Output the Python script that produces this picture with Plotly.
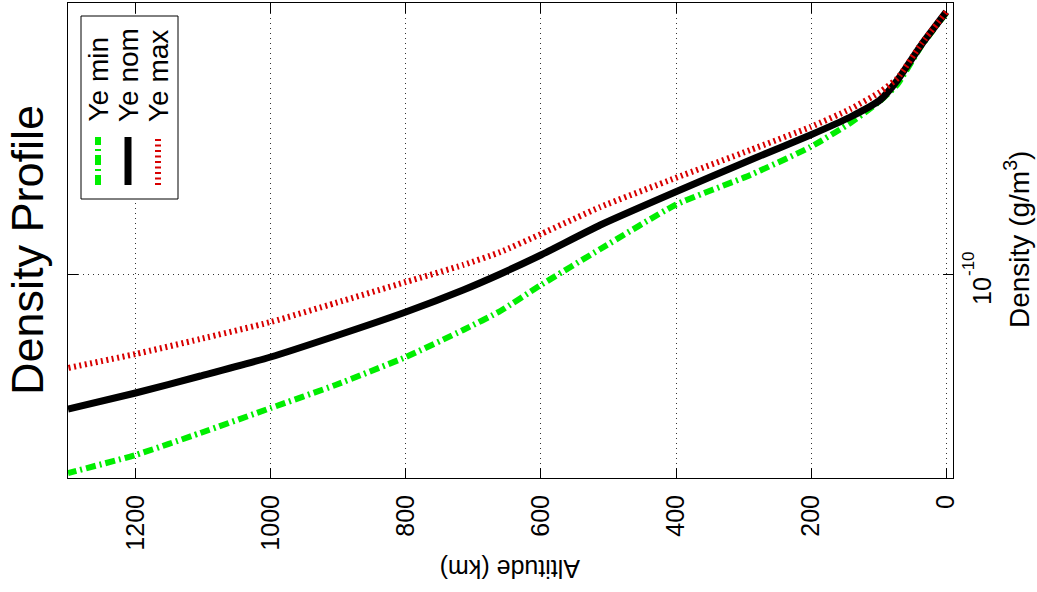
import plotly.graph_objects as go

# ---- data ----
altitude_km = [0, 37, 72, 98, 142, 201, 290, 401, 512, 600, 660, 715, 800, 904, 1000, 1104, 1200, 1300]

density_ye_min = [5.01e-2, 3.98e-3, 2.15e-4, 5.85e-5, 1.08e-5, 1.71e-6, 2.00e-7, 2.00e-8, 6.81e-10,
                  4.30e-11, 5.85e-12, 1.36e-12, 1.71e-13, 2.00e-14, 3.41e-15, 5.01e-16, 9.26e-17,
                  2.33e-17]
density_ye_nom = [5.41e-2, 4.30e-3, 2.93e-4, 6.31e-5, 1.71e-5, 4.30e-6, 6.31e-7, 5.41e-8, 4.30e-9,
                  4.30e-10, 1.00e-10, 2.93e-11, 5.41e-12, 8.58e-13, 1.71e-13, 3.98e-14, 1.08e-14,
                  3.16e-15]
density_ye_max = [5.41e-2, 4.64e-3, 3.41e-4, 1.17e-4, 3.16e-5, 7.94e-6, 1.36e-6, 1.58e-7, 1.71e-8,
                  2.15e-9, 5.41e-10, 2.00e-10, 5.41e-11, 1.08e-11, 2.51e-12, 6.81e-13, 2.15e-13,
                  7.36e-14]

series_names = ["Ye min", "Ye nom", "Ye max"]
x_ticks = [0, 200, 400, 600, 800, 1000, 1200]
y_ticks = [1e-10]
y_tick_base = "10"
y_tick_exp = "-10"

# ---- figure geometry ----
W, H = 1037, 592
L, R, T, B = 68, 953, 3, 478


def px(x):
    return (x - L) / (R - L)


def py(y):
    return (B - y) / (B - T)


FONT = "Liberation Sans, Arial, sans-serif"
styles = [
    dict(color="#00ee00", width=6, dash="10px,4px,2px,4px"),
    dict(color="#000000", width=7, dash="solid"),
    dict(color="#d80000", width=6, dash="2px,3.5px"),
]
data = [density_ye_min, density_ye_nom, density_ye_max]

fig = go.Figure()
for name, vals, st in zip(series_names, data, styles):
    fig.add_trace(go.Scatter(
        x=altitude_km, y=vals, mode="lines", name=name, showlegend=False,
        line=dict(color=st["color"], width=st["width"], dash=st["dash"],
                  shape="spline", smoothing=0.5),
    ))

axis_common = dict(
    showline=True, linecolor="black", linewidth=1, mirror="ticks",
    ticks="inside", ticklen=10, tickcolor="black", tickwidth=1,
    showgrid=True, gridcolor="rgba(0,0,0,0.8)", gridwidth=1, griddash="1px,4px",
    zeroline=False, tickfont=dict(family=FONT, size=25, color="black"),
)

fig.update_layout(
    width=W, height=H,
    margin=dict(l=L, r=W - R, t=T, b=H - B),
    paper_bgcolor="white", plot_bgcolor="white",
    xaxis=dict(range=[1300, -10], tickvals=x_ticks, tickangle=-90,
               ticklabelstandoff=6, **axis_common),
    yaxis=dict(type="log", range=[-16.8, -0.967], tickvals=y_ticks, showticklabels=False,
               side="right", **axis_common),
)

annotations = [
    dict(text="Density Profile", x=px(27), y=py(250), textangle=-90,
         font=dict(family=FONT, size=45, color="black")),
    dict(text="Density (g/m<sup>3</sup>)", x=px(1017), y=py(240), textangle=-90,
         font=dict(family=FONT, size=28, color="black")),
    dict(text=y_tick_base, x=px(982), y=py(291), textangle=-90,
         font=dict(family=FONT, size=25, color="black")),
    dict(text=y_tick_exp, x=px(968), y=py(264), textangle=-90,
         font=dict(family=FONT, size=17, color="black")),
    dict(text="Altitude (km)", x=px(510), y=py(569), textangle=180,
         font=dict(family=FONT, size=25, color="black")),
]
legend_x = [98, 128, 158]
for name, lx in zip(series_names, legend_x):
    annotations.append(dict(text=name, x=px(lx), y=py(124), textangle=-90,
                            xanchor="center", yanchor="bottom",
                            font=dict(family=FONT, size=28, color="black")))
for a in annotations:
    a.setdefault("xref", "paper")
    a.setdefault("yref", "paper")
    a.setdefault("showarrow", False)
    a.setdefault("xanchor", "center")
    a.setdefault("yanchor", "middle")
fig.update_layout(annotations=annotations)

shapes = [dict(type="rect", xref="paper", yref="paper", x0=px(81), x1=px(178), y0=py(199), y1=py(16),
               line=dict(color="black", width=1), fillcolor="white", layer="above")]
for st, lx in zip(styles, legend_x):
    shapes.append(dict(type="line", xref="paper", yref="paper", x0=px(lx), x1=px(lx),
                       y0=py(185), y1=py(137), layer="above",
                       line=dict(color=st["color"], width=st["width"], dash=st["dash"])))
fig.update_layout(shapes=shapes)

fig.write_html("out.html")
